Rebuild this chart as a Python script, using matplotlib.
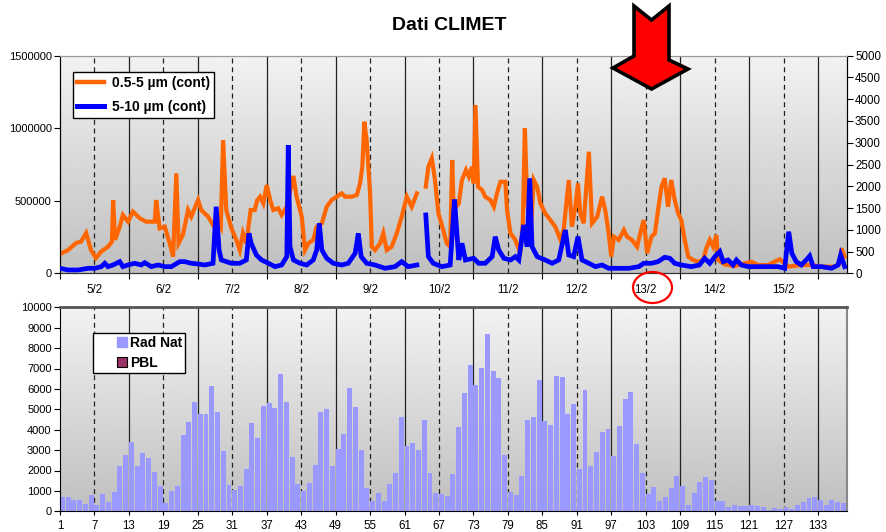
import matplotlib

matplotlib.use("Agg")
import matplotlib.pyplot as plt
import numpy as np
from matplotlib.lines import Line2D
from matplotlib.patches import Ellipse, Polygon

plt.rcParams["font.family"] = ["Liberation Sans", "DejaVu Sans"]

W, H = 887, 532

# --- particle counters, hours from start of record -------------------------
FINE_HOURS = [
    0, 2.8, 5.6, 7.3, 9.1, 10.8, 12.5, 14.3, 16.7, 18.1, 18.5, 19.2, 20.8, 21.9,
    23.7, 25.4, 27.8, 30.0, 33.0, 33.5, 34.7, 36.5, 38.2, 39.4, 40.5, 41.3, 42.8,
    44.6, 45.7, 48.1, 49.2, 51.6, 53.3, 54.8, 56.0, 56.8, 57.9, 59.7, 61.4, 62.6,
    63.7, 64.9, 66.4, 67.8, 68.7, 69.7, 70.8, 72.0, 73.2, 74.3, 76.0, 77.2, 79.0,
    81.3, 82.4, 84.2, 85.3, 86.5, 88.2, 89.4, 91.2, 92.9, 94.6, 96.4, 98.1, 99.3,
    101.6, 103.4, 104.5, 105.3, 106.0, 106.8, 108.0, 108.6, 109.7, 111.5, 112.6,
    113.8, 115.5, 117.3, 119.0, 120.8, 122.5, 124.3, 125.8, 127.4, 128.3, 129.5,
    130.6, 131.8, 133.5, 134.7, 135.9, 136.6, 137.1, 138.9, 140.0, 141.4, 142.4,
    143.5, 144.1, 144.7, 145.6, 147.0, 148.1, 149.9, 151.1, 152.2, 153.4, 155.1,
    155.7, 156.9, 158.6, 160.3, 161.2, 161.9, 162.7, 163.8, 165.0, 166.2, 167.3,
    169.0, 170.8, 172.5, 174.3, 175.4, 177.2, 178.3, 179.5, 180.4, 181.2, 182.4,
    184.2, 185.3, 187.1, 188.8, 189.9, 191.1, 192.0, 192.9, 194.6, 196.4, 197.5,
    199.2, 201.0, 202.1, 203.3, 204.5, 206.0, 207.2, 208.3, 209.5, 210.6, 211.8,
    212.9, 214.1, 215.3, 216.4, 217.6, 218.8, 220.5, 222.2, 224.0, 225.1, 226.3,
    227.5, 228.6, 229.2, 231.6, 235.1, 238.5, 240.8, 243.1, 246.6, 248.9, 250.7,
    252.4, 253.6, 258.2, 261.7, 265.2, 269.9, 271.6, 272.2, 273.3,
]
# counts in thousands
FINE_COUNTS_K = [
    133, 160, 209, 218, 278, 160, 105, 149, 183, 218, 505, 230, 321, 402,
    356, 425, 379, 356, 356, 505, 310, 321, 207, 115, 689, 207, 264,
    436, 390, 505, 436, 390, 333, 367, 321, 919, 436, 310, 230, 160,
    276, 207, 436, 436, 505, 528, 482, 608, 505, 436, 448, 402, 459,
    671, 528, 390, 160, 207, 230, 321, 345, 459, 505, 528, 551, 528,
    528, 540, 620, 735, 1045, 919, 551, 183, 160, 207, 276,
    160, 183, 276, 390, 528, 459, 551, np.nan, 597, 735, 793,
    643, 413, 298, 207, 183, 781, 436, 482, 643, 712, 666,
    735, 620, 1160, 597, 574, 528, 505, 459, 551, 631, 631,
    436, 276, 230, 138, 345, 1000, 505, 230, 643, 597, 482,
    413, 367, 321, 230, 298, 643, 321, 459, 620, 413, 345,
    838, 345, 390, 528, 436, 276, 115, 252, 230, 298, 252,
    230, 183, 276, 367, 138, 252, 276, 436, 597, 655, 459,
    643, 505, 413, 367, 230, 115, 92, 80, 92, 172, 230,
    183, 264, 92, 60, 50, 69, 80, 57, 57, 80, 97,
    69, 46, 57, 57, 46, 46, 69, 172, 115,
]

COARSE_HOURS = [
    0, 2.8, 6.3, 9.8, 12.1, 14.4, 15.6, 16.7, 18.5, 20.8, 21.9, 23.7, 26.0, 28.3,
    29.5, 31.8, 34.1, 36.5, 38.8, 41.7, 43.4, 45.7, 48.1, 50.4, 53.3, 54.4, 55.4,
    56.2, 57.9, 59.7, 62.6, 64.9, 65.8, 66.6, 68.4, 70.2, 72.6, 74.9, 77.2, 79.0,
    79.5, 80.1, 81.3, 83.6, 85.9, 88.2, 89.4, 90.3, 91.2, 92.9, 95.2, 98.1, 100.4,
    102.8, 103.9, 104.9, 106.8, 109.7, 113.2, 116.7, 119.0, 121.3, 124.3, 125.8,
    127.4, 128.3, 130.0, 133.0, 135.9, 137.4, 138.9, 140.0, 141.2, 144.1, 145.8,
    148.1, 150.5, 151.6, 152.8, 154.6, 156.9, 158.6, 159.8, 161.5, 162.7, 163.6,
    164.4, 166.2, 169.0, 171.4, 173.7, 176.0, 177.2, 178.9, 180.4, 181.8, 184.2,
    186.5, 188.8, 191.1, 194.6, 198.1, 201.6, 203.3, 206.0, 208.3, 210.6, 212.4,
    214.1, 216.4, 219.9, 222.7, 224.5, 226.3, 228.1, 229.8, 231.0, 232.7, 234.4,
    235.6, 237.3, 239.7, 243.1, 246.6, 250.1, 252.4, 253.8, 254.9, 256.4, 258.2,
    259.9, 261.1, 262.3, 265.2, 268.7, 271.0, 271.9, 273.3,
]
COARSE_COUNTS = [
    115, 76, 76, 115, 115, 153, 230, 153, 191, 268, 153, 191, 230, 191,
    245, 153, 191, 153, 153, 268, 268, 230, 214, 191, 230, 1530, 536,
    306, 268, 230, 230, 306, 919, 689, 420, 306, 230, 153, 191, 383,
    2948, 613, 306, 230, 191, 306, 536, 1149, 536, 345, 230, 191, 230,
    460, 919, 383, 230, 191, 115, 153, 268, 153, 191, np.nan,
    1340, 383, 230, 153, 191, 1700, 306, 689, 306, 345, 230,
    230, 383, 842, 536, 345, 306, 383, 306, 1110, 613, 2183,
    613, 383, 306, 230, 306, 995, 421, 383, 842, 306, 230,
    153, 191, 115, 115, 115, 153, 230, 230, 268, 368, 345,
    230, 191, 153, 191, 345, 230, 383, 498, 268, 306, 191,
    306, 191, 153, 153, 153, 153, 115, 956, 460, 268, 191,
    306, 398, 153, 153, 115, 191, 421, 153,
]

DAY_LABELS = ["5/2", "6/2", "7/2", "8/2", "9/2", "10/2", "11/2", "12/2",
              "13/2", "14/2", "15/2"]

# --- natural radioactivity, 2-hour bins ------------------------------------
RAD_NAT = [
    680, 720, 530, 570, 380, 820, 320, 870, 480, 970,
    2230, 2780, 3420, 2230, 2870, 2590, 1950, 1260, 420, 1010,
    1260, 3760, 4390, 5370, 4780, 4780, 6150, 4880, 2970, 1310,
    1060, 1260, 2090, 4340, 3610, 5170, 5320, 5070, 6740, 5370,
    2680, 1320, 1000, 1400, 2290, 4870, 5020, 2240, 3060, 3790,
    6050, 5110, 3010, 1140, 510, 900, 510, 1340, 1880, 4620,
    3200, 3350, 3010, 4480, 1880, 900, 850, 750, 1830, 4130,
    5800, 7170, 6190, 7030, 8690, 6880, 6540, 2760, 950, 800,
    1730, 4480, 4620, 6440, 4430, 4230, 6630, 6590, 4770, 5260,
    2080, 5950, 2240, 2910, 3890, 4040, 2730, 4180, 5510, 5850,
    3300, 1880, 850, 1190, 510, 700, 1140, 1730, 1240, 310,
    900, 1440, 1680, 1540, 510, 510, 210, 310, 260, 260,
    310, 260, 210, 70, 160, 110, 210, 110, 310, 460,
    650, 700, 560, 310, 560, 460, 410,
]

ORANGE = "#ff6600"
BLUE = "#0000ff"
BAR = "#9999ff"
PBL = "#993366"
DASH = (0, (4, 3))


def shade(ax):
    grad = np.linspace(0.95, 0.75, 256).reshape(-1, 1)
    ax.imshow(grad, cmap="gray", vmin=0, vmax=1, aspect="auto",
              extent=(0, 1, 0, 1), transform=ax.transAxes, zorder=0)


def px_to_fig(points):
    return [(x / W, 1 - y / H) for x, y in points]


fig = plt.figure(figsize=(W / 100, H / 100), dpi=100)
ax = fig.add_axes([60 / W, 1 - 273.3 / H, 786.7 / W, 217.6 / H])
ax2 = ax.twinx()
axb = fig.add_axes([60 / W, 1 - 511.3 / H, 786.7 / W, 204 / H])

# top panel: particle counts
n_bins = len(RAD_NAT)
t_end = 2 * n_bins
shade(ax)
for h in range(24, t_end, 24):
    ax.axvline(h, color="#222222", lw=0.9, zorder=1)
for h in range(12, t_end, 24):
    ax.axvline(h, color="#222222", lw=0.9, ls=DASH, zorder=1)
ax.plot(FINE_HOURS, np.array(FINE_COUNTS_K) * 1000, color=ORANGE, lw=3.0,
        solid_joinstyle="miter", zorder=3)
ax2.plot(COARSE_HOURS, COARSE_COUNTS, color=BLUE, lw=3.4, solid_joinstyle="miter",
         zorder=3)

ax.set_xlim(0, t_end)
ax.set_ylim(0, 1500000)
ax.set_yticks([0, 500000, 1000000, 1500000],
              labels=["0", "500000", "1000000", "1500000"])
ax2.set_ylim(0, 5000)
ax2.set_yticks(range(0, 5001, 500))
ax.set_xticks(range(0, t_end, 24))
ax.set_xticks(range(12, t_end, 24), minor=True)
ax.set_xticklabels([])
ax.set_xticklabels(DAY_LABELS, minor=True)
ax.tick_params(axis="x", which="major", direction="out", length=4, width=0.8)
ax.tick_params(axis="x", which="minor", length=0, pad=8, labelsize=8.3)
ax.tick_params(axis="y", direction="out", length=4, width=0.8, labelsize=8, pad=2)
ax2.tick_params(axis="y", direction="out", length=4, width=0.8, labelsize=8.3, pad=2)
for a in (ax, ax2):
    a.spines["top"].set_color("#999999")
    a.spines["left"].set_color("black")
    a.spines["right"].set_color("black")
    a.spines["bottom"].set_color("#333333")

handles = [Line2D([], [], color=ORANGE, lw=3.2), Line2D([], [], color=BLUE, lw=3.6)]
leg = ax2.legend(handles, ["0.5-5 µm (cont)", "5-10 µm (cont)"],
                 loc="upper left", bbox_to_anchor=(0.0165, 0.925), borderaxespad=0,
                 prop={"weight": "bold", "size": 10}, fancybox=False, framealpha=1,
                 edgecolor="black", borderpad=0.3, handlelength=1.9,
                 handletextpad=0.6, labelspacing=0.7)
leg.get_frame().set_linewidth(1.0)

# bottom panel: natural radioactivity
shade(axb)
for k in range(12, n_bins, 12):
    axb.axvline(k, color="#222222", lw=0.9, zorder=1)
for k in range(6, n_bins, 12):
    axb.axvline(k, color="#222222", lw=0.9, ls=DASH, zorder=1)
axb.bar(np.arange(n_bins), RAD_NAT, width=0.86, align="edge", color=BAR, zorder=2)
axb.set_xlim(0, n_bins)
axb.set_ylim(0, 10000)
axb.set_yticks(range(0, 10001, 1000))
axb.set_xticks(range(0, n_bins, 6), labels=[str(k + 1) for k in range(0, n_bins, 6)])
axb.tick_params(axis="x", direction="out", length=3, width=0.8, labelsize=8.3, pad=3)
axb.tick_params(axis="y", direction="out", length=4, width=0.8, labelsize=8, pad=2)
axb.spines["top"].set_color("#555555")
axb.spines["top"].set_linewidth(2)
axb.spines["right"].set_color("#888888")
axb.spines["right"].set_linewidth(1.5)

bar_handles = [
    Line2D([], [], ls="none", marker="s", markersize=7, color=BAR, markeredgecolor=BAR),
    Line2D([], [], ls="none", marker="s", markersize=7, color=PBL, markeredgecolor="black",
           markeredgewidth=0.8),
]
legb = axb.legend(bar_handles, ["Rad Nat", "PBL"], loc="upper left",
                  bbox_to_anchor=(0.042, 0.874), borderaxespad=0,
                  prop={"weight": "bold", "size": 10}, fancybox=False, framealpha=1,
                  edgecolor="black", borderpad=0.2, handlelength=3.77,
                  handletextpad=-1.31, labelspacing=0.45)
legb.get_frame().set_linewidth(1.0)

fig.text(449 / W, 1 - 25 / H, "Dati CLIMET", ha="center", va="center",
         fontsize=14, fontweight="bold")

# pointer to 13/2
arrow = [(634, 6), (651.5, 20), (669, 6), (669, 60), (688, 69), (651.5, 89),
         (613, 68), (634, 56)]
fig.patches.append(Polygon(px_to_fig(arrow), closed=True, facecolor="#ff0000",
                           edgecolor="black", lw=2.6, joinstyle="miter",
                           transform=fig.transFigure, figure=fig))
fig.patches.append(Ellipse((652.5 / W, 1 - 287.5 / H), 39 / W, 31 / H, fill=False,
                           edgecolor="#ff0000", lw=1.6, transform=fig.transFigure,
                           figure=fig))

fig.savefig("out.png", dpi=100)
